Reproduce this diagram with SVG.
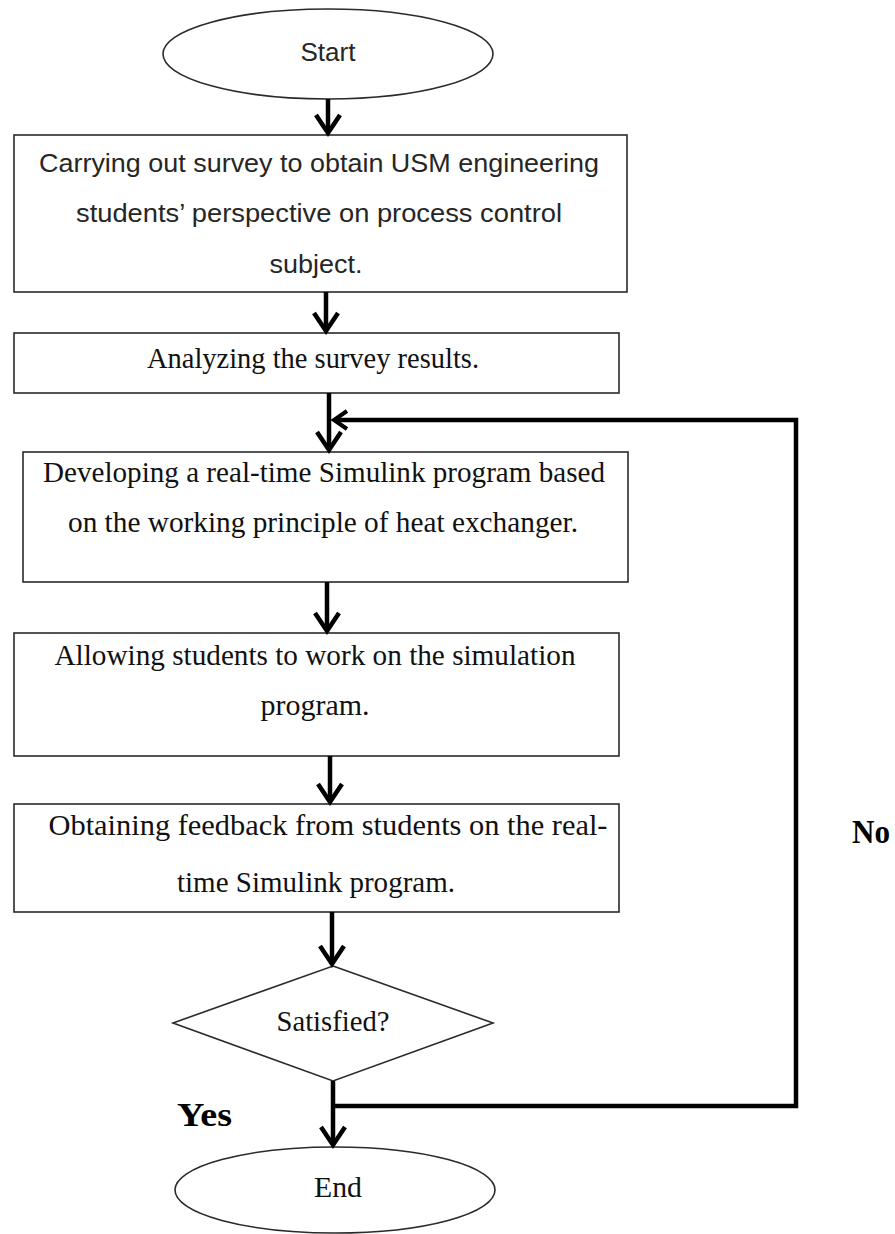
<svg xmlns="http://www.w3.org/2000/svg" width="895" height="1234" viewBox="0 0 895 1234">
<style>
.shape{fill:#fff;stroke:#2a2a2a;stroke-width:1.6}
.sans{font-family:"Liberation Sans",Arial,sans-serif;font-size:25px;fill:#262626;text-anchor:middle}
.serif{font-family:"Liberation Serif","Times New Roman",serif;font-size:29px;fill:#111;text-anchor:middle}
.lbl{font-family:"Liberation Serif","Times New Roman",serif;font-size:33px;font-weight:bold;fill:#000}
.conn{fill:none;stroke:#000;stroke-width:4.5;stroke-linejoin:miter}
</style>
<defs>
<marker id="chev" markerUnits="userSpaceOnUse" viewBox="-22 -14 26 28" refX="0" refY="0" markerWidth="26" markerHeight="28" orient="auto" overflow="visible">
<path d="M-18,-12 L0,0 L-18,12" fill="none" stroke="#000" stroke-width="4.5"/>
</marker>
<marker id="chevS" markerUnits="userSpaceOnUse" viewBox="-16 -12 20 24" refX="0" refY="0" markerWidth="20" markerHeight="24" orient="auto" overflow="visible">
<path d="M-13,-9 L0,0 L-13,9" fill="none" stroke="#000" stroke-width="4"/>
</marker>
</defs>

<g id="start">
<ellipse class="shape" cx="328" cy="54" rx="165" ry="45"/>
<text class="sans" x="328" y="61" textLength="55" lengthAdjust="spacingAndGlyphs">Start</text>
</g>

<g id="survey">
<rect class="shape" x="14" y="135" width="613" height="157"/>
<text class="sans" x="319" y="172" textLength="560" lengthAdjust="spacingAndGlyphs">Carrying out survey to obtain USM engineering</text>
<text class="sans" x="319" y="222" textLength="486" lengthAdjust="spacingAndGlyphs">students’ perspective on process control</text>
<text class="sans" x="316" y="273" textLength="93" lengthAdjust="spacingAndGlyphs">subject.</text>
</g>

<g id="analyze">
<rect class="shape" x="14" y="333" width="605" height="60"/>
<text class="serif" x="313" y="368" textLength="332" lengthAdjust="spacingAndGlyphs">Analyzing the survey results.</text>
</g>

<g id="develop">
<rect class="shape" x="23" y="452" width="605" height="130"/>
<text class="serif" x="324" y="482" textLength="562" lengthAdjust="spacingAndGlyphs">Developing a real-time Simulink program based</text>
<text class="serif" x="323" y="532" textLength="510" lengthAdjust="spacingAndGlyphs">on the working principle of heat exchanger.</text>
</g>

<g id="allow">
<rect class="shape" x="14" y="633" width="605" height="123"/>
<text class="serif" x="315" y="665" textLength="521" lengthAdjust="spacingAndGlyphs">Allowing students to work on the simulation</text>
<text class="serif" x="315" y="715" textLength="109" lengthAdjust="spacingAndGlyphs">program.</text>
</g>

<g id="feedback">
<rect class="shape" x="14" y="804" width="605" height="108"/>
<text class="serif" x="328" y="835" textLength="559" lengthAdjust="spacingAndGlyphs">Obtaining feedback from students on the real-</text>
<text class="serif" x="316" y="892" textLength="278" lengthAdjust="spacingAndGlyphs">time Simulink program.</text>
</g>

<g id="decision">
<polygon class="shape" points="333,966 493,1023 333,1081 173,1023"/>
<text class="serif" x="333" y="1031" textLength="113" lengthAdjust="spacingAndGlyphs">Satisfied?</text>
</g>

<g id="end">
<ellipse class="shape" cx="335" cy="1190" rx="160" ry="43"/>
<text class="serif" x="338" y="1197" textLength="48" lengthAdjust="spacingAndGlyphs">End</text>
</g>

<g id="connectors">
<path class="conn" d="M328,99 L328,133" marker-end="url(#chev)"/>
<path class="conn" d="M326,292 L326,331" marker-end="url(#chev)"/>
<path class="conn" d="M329,393 L329,450" marker-end="url(#chev)"/>
<path class="conn" d="M327,582 L327,631" marker-end="url(#chev)"/>
<path class="conn" d="M330,756 L330,802" marker-end="url(#chev)"/>
<path class="conn" d="M332,912 L332,964" marker-end="url(#chev)"/>
<path class="conn" d="M333,1081 L333,1145" marker-end="url(#chev)"/>
<path class="conn" d="M333,1106 L796,1106 L796,420 L334,420" marker-end="url(#chevS)"/>
<text class="lbl" x="177" y="1126" textLength="55" lengthAdjust="spacingAndGlyphs">Yes</text>
<text class="lbl" x="852" y="843" textLength="38" lengthAdjust="spacingAndGlyphs">No</text>
</g>
</svg>
